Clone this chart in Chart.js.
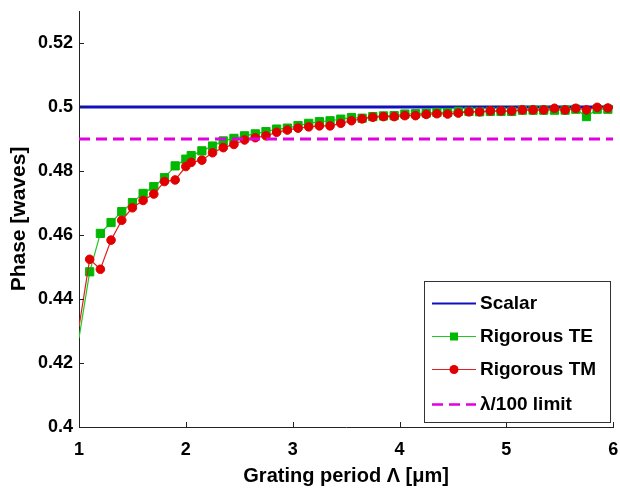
<!DOCTYPE html>
<html>
<head>
<meta charset="utf-8">
<script src="https://cdn.jsdelivr.net/npm/chart.js@4"></script>
<style>
  html, body { margin: 0; padding: 0; background: #fff; }
  #wrap { width: 620px; height: 488px; }
</style>
</head>
<body>
<div id="wrap"><canvas id="phasePlot" width="620" height="488"></canvas></div>
<script>
// grating periods in um (both solvers share the same sampling)
const period = [1.0, 1.1, 1.2, 1.3, 1.4, 1.5, 1.6, 1.7, 1.8, 1.9, 2.0,
  2.05, 2.15, 2.25, 2.35, 2.45, 2.55, 2.65, 2.75, 2.85, 2.95,
  3.05, 3.15, 3.25, 3.35, 3.45, 3.55, 3.65, 3.75, 3.85, 3.95,
  4.05, 4.15, 4.25, 4.35, 4.45, 4.55, 4.65, 4.75, 4.85, 4.95,
  5.05, 5.15, 5.25, 5.35, 5.45, 5.55, 5.65, 5.75, 5.85, 5.95];

// phase in waves
const phaseTE = [0.4278, 0.4485, 0.4605, 0.4639, 0.4673, 0.4701, 0.4730, 0.4751, 0.4779, 0.4816, 0.4837,
  0.4848, 0.4863, 0.4878, 0.4894, 0.4902, 0.4910, 0.4916, 0.4923, 0.4931, 0.4934,
  0.4942, 0.4949, 0.4954, 0.4957, 0.4962, 0.4967, 0.4965, 0.4970, 0.4972, 0.4973,
  0.4978, 0.4979, 0.4981, 0.4983, 0.4983, 0.4986, 0.4986, 0.4985, 0.4986, 0.4986,
  0.4986, 0.4990, 0.4990, 0.4990, 0.4990, 0.4990, 0.4993, 0.4970, 0.4993, 0.4993];

const phaseTM = [0.4313, 0.4524, 0.4493, 0.4584, 0.4646, 0.4685, 0.4708, 0.4728, 0.4767, 0.4772, 0.4814,
  0.4827, 0.4834, 0.4857, 0.4873, 0.4883, 0.4897, 0.4904, 0.4910, 0.4921, 0.4928,
  0.4934, 0.4938, 0.4941, 0.4941, 0.4949, 0.4957, 0.4963, 0.4968, 0.4970, 0.4970,
  0.4973, 0.4973, 0.4977, 0.4979, 0.4978, 0.4981, 0.4985, 0.4985, 0.4988, 0.4988,
  0.4988, 0.4991, 0.4991, 0.4991, 0.4996, 0.4991, 0.4996, 0.4991, 0.4999, 0.4997];

const scalarPhase = 0.5;
const limitPhase = 0.49;
const xRange = [1, 6];

const xTicks = [1, 2, 3, 4, 5, 6];
const yTicks = [0.4, 0.42, 0.44, 0.46, 0.48, 0.5, 0.52];

const FONT = '"Liberation Sans", Arial, Helvetica, sans-serif';

function pairs(xs, ys) {
  return xs.map((x, i) => ({x: x, y: ys[i]}));
}

// first sample sits on the axis, no marker there
const hideFirst = r => ctx => ctx.dataIndex === 0 ? 0 : r;

// keep the plot box fixed: no extra room for overhanging tick labels
function noOverhang(s) {
  s.paddingTop = 0;
  s.paddingBottom = 0;
  s.paddingLeft = 0;
  s.paddingRight = 0;
}

// inward tick marks on left and bottom axes
const inwardTicks = {
  id: 'inwardTicks',
  afterDatasetsDraw(chart) {
    const {ctx, chartArea, scales} = chart;
    ctx.save();
    ctx.strokeStyle = '#222';
    ctx.lineWidth = 1;
    ctx.beginPath();
    scales.x.ticks.forEach(t => {
      const px = Math.round(scales.x.getPixelForValue(t.value)) + 0.5;
      ctx.moveTo(px, chartArea.bottom);
      ctx.lineTo(px, chartArea.bottom - 5);
    });
    scales.y.ticks.forEach(t => {
      const py = Math.round(scales.y.getPixelForValue(t.value)) + 0.5;
      ctx.moveTo(chartArea.left, py);
      ctx.lineTo(chartArea.left + 5, py);
    });
    ctx.stroke();
    ctx.restore();
  }
};

// boxed legend in the lower right corner
const boxLegend = {
  id: 'boxLegend',
  afterDraw(chart) {
    const {ctx} = chart;
    const left = 424, top = 281, w = 186, h = 141;
    const rowY = [303, 336, 369, 404];
    const sx0 = 432, sx1 = 476;
    ctx.save();
    ctx.fillStyle = '#fff';
    ctx.fillRect(left, top, w, h);
    ctx.strokeStyle = '#333';
    ctx.lineWidth = 1;
    ctx.strokeRect(left + 0.5, top + 0.5, w, h);
    chart.data.datasets.forEach((ds, i) => {
      const y = rowY[i] + 0.5;
      ctx.strokeStyle = ds.borderColor;
      ctx.lineWidth = ds.legendWidth || ds.borderWidth;
      ctx.setLineDash(ds.borderDash || []);
      ctx.beginPath();
      ctx.moveTo(sx0, y);
      ctx.lineTo(sx1, y);
      ctx.stroke();
      ctx.setLineDash([]);
      const mx = (sx0 + sx1) / 2;
      ctx.fillStyle = ds.pointBackgroundColor || ds.borderColor;
      if (ds.pointStyle === 'rect') {
        ctx.fillRect(mx - 4, y - 4, 8, 8);
      } else if (ds.pointStyle === 'circle') {
        ctx.beginPath();
        ctx.arc(mx, y, 4.5, 0, Math.PI * 2);
        ctx.fill();
      }
      ctx.fillStyle = '#000';
      ctx.font = 'bold 19px ' + FONT;
      ctx.textBaseline = 'middle';
      ctx.fillText(ds.label, 480, rowY[i] + 1);
    });
    ctx.restore();
  }
};

const data = {
  datasets: [
    {
      label: 'Scalar',
      data: pairs(xRange, [scalarPhase, scalarPhase]),
      borderColor: '#1010c0',
      borderWidth: 3,
      legendWidth: 2,
      pointRadius: 0,
      order: 4
    },
    {
      label: 'Rigorous TE',
      data: pairs(period, phaseTE),
      borderColor: '#22c822',
      borderWidth: 1.2,
      pointStyle: 'rect',
      pointRadius: hideFirst(5.8),
      pointBackgroundColor: '#00b800',
      pointBorderColor: '#00b800',
      pointBorderWidth: 1,
      order: 3
    },
    {
      label: 'Rigorous TM',
      data: pairs(period, phaseTM),
      borderColor: '#e02020',
      borderWidth: 1.2,
      pointStyle: 'circle',
      pointRadius: hideFirst(4.3),
      pointBackgroundColor: '#e00000',
      pointBorderColor: '#e00000',
      pointBorderWidth: 1,
      order: 2
    },
    {
      label: 'λ/100 limit',
      data: pairs(xRange, [limitPhase, limitPhase]),
      borderColor: '#e000e0',
      borderWidth: 3,
      legendWidth: 2.5,
      borderDash: [11, 6],
      pointRadius: 0,
      order: 1
    }
  ]
};

new Chart(document.getElementById('phasePlot'), {
  type: 'line',
  data: data,
  options: {
    responsive: false,
    animation: false,
    devicePixelRatio: 1,
    layout: {padding: {top: 11, right: 5, left: 0, bottom: 0}},
    plugins: {
      legend: {display: false},
      tooltip: {enabled: false}
    },
    elements: {line: {tension: 0}},
    scales: {
      x: {
        type: 'linear',
        min: 1,
        max: 6,
        afterBuildTicks: s => { s.ticks = xTicks.map(v => ({value: v})); },
        afterFit: s => { s.height = 61; noOverhang(s); },
        grid: {drawOnChartArea: false, drawTicks: false},
        border: {display: true, color: '#222', width: 1},
        ticks: {
          color: '#000',
          padding: 12,
          font: {family: FONT, size: 18, weight: 'bold'},
          callback: v => String(v)
        },
        title: {
          display: true,
          text: 'Grating period Λ [μm]',
          color: '#000',
          padding: {top: 0, bottom: 0},
          font: {family: FONT, size: 20, weight: 'bold'}
        }
      },
      y: {
        type: 'linear',
        min: 0.4,
        max: 0.53,
        afterBuildTicks: s => { s.ticks = yTicks.map(v => ({value: v})); },
        afterFit: s => { s.width = 79; noOverhang(s); },
        grid: {drawOnChartArea: false, drawTicks: false},
        border: {display: true, color: '#222', width: 1},
        ticks: {
          color: '#000',
          padding: 6,
          font: {family: FONT, size: 18, weight: 'bold'},
          callback: v => String(+v.toFixed(2))
        },
        title: {
          display: true,
          text: 'Phase [waves]',
          color: '#000',
          padding: {top: 7, bottom: 4},
          font: {family: FONT, size: 21, weight: 'bold'}
        }
      }
    }
  },
  plugins: [inwardTicks, boxLegend]
});
</script>
</body>
</html>
